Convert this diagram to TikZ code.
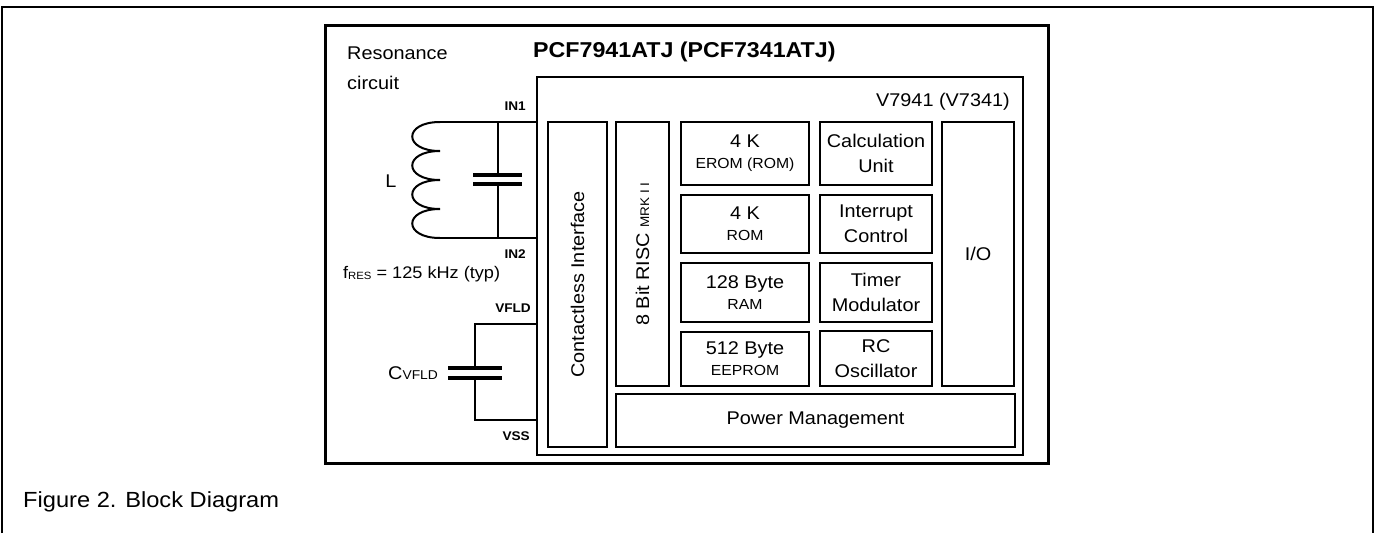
\documentclass[tikz,border=0pt]{standalone}
\usepackage{fontspec}
\setmainfont{Liberation Sans}[FakeStretch=1.08]
\usepackage{tikz}
\newcommand{\txtsize}[2]{\fontsize{#1}{#2}\selectfont}

\begin{document}
\begin{tikzpicture}[x=1pt,y=-1pt,
  blk/.style={draw, line width=1.1pt, inner sep=0pt, align=center, font=\txtsize{18.4}{25}},
  wire/.style={line width=2pt},
  plate/.style={line width=4pt},
  pin/.style={anchor=base east, inner sep=0pt, font=\bfseries\txtsize{12.6}{13}},
  lbl/.style={inner sep=0pt, font=\txtsize{18.4}{20}}]
\useasboundingbox (0,0) rectangle (1381,533);
% page frame
\draw[line width=2pt] (2,533) -- (2,7) -- (1373,7) -- (1373,533);
% chip and core
\node[draw, line width=3pt, inner sep=0pt, minimum width=723, minimum height=438] (chip) at (686.5,244) {};
\node[draw, line width=1.3pt, inner sep=0pt, minimum width=486, minimum height=378] (core) at (780,266) {};
\node[lbl, anchor=base west] (res) at (347,59) {Resonance};
\node[lbl, anchor=base west] (circ) at (347,89) {circuit};
\node[lbl, anchor=base west, font=\bfseries\txtsize{21.5}{22}] (title) at (533,57) {PCF7941ATJ (PCF7341ATJ)};
\node[lbl, anchor=base east] (corename) at (1010,106) {V7941 (V7341)};
% blocks
\node[blk, rotate=90, minimum width=325, minimum height=59] (cif) at (577.5,284.5) {Contactless Interface};
\node[blk, rotate=90, minimum width=264, minimum height=53] (risc) at (642.5,254) {8 Bit RISC {\txtsize{12.5}{13}MRK I I}};
\node[blk, minimum width=128, minimum height=63] (erom) at (745,153.5) {4 K\\[-4pt]{\txtsize{14.6}{16}EROM (ROM)}};
\node[blk, minimum width=128, minimum height=58] (rom) at (745,224) {4 K\\[-4pt]{\txtsize{14.6}{16}ROM}};
\node[blk, minimum width=128, minimum height=59] (ram) at (745,292.5) {128 Byte\\[-4pt]{\txtsize{14.6}{16}RAM}};
\node[blk, minimum width=128, minimum height=54] (eeprom) at (745,359) {512 Byte\\[-4pt]{\txtsize{14.6}{16}EEPROM}};
\node[blk, minimum width=112, minimum height=63] (calc) at (876,153.5) {Calculation\\Unit};
\node[blk, minimum width=112, minimum height=58] (intr) at (876,224) {Interrupt\\Control};
\node[blk, minimum width=112, minimum height=59] (tmod) at (876,292.5) {Timer\\Modulator};
\node[blk, minimum width=112, minimum height=55] (rcosc) at (876,358.5) {RC\\Oscillator};
\node[blk, minimum width=72, minimum height=264] (io) at (978,254) {I/O};
\node[blk, minimum width=399, minimum height=53] (pwr) at (815.5,420.5) {Power Management};
% pins
\coordinate (in1) at (537,122);
\coordinate (in2) at (537,238);
\coordinate (vfld) at (537,324);
\coordinate (vss) at (537,420);
\node[pin] (in1lbl) at (526,110.5) {IN1};
\node[pin] (in2lbl) at (526,258) {IN2};
\node[pin] (vfldlbl) at (531,312) {VFLD};
\node[pin] (vsslbl) at (530,440) {VSS};
% resonance circuit
\coordinate (ltop) at (440,122);
\coordinate (lbot) at (440,238);
\draw[wire] (ltop) \foreach \k in {0,...,3} { .. controls (403,{122+29*\k}) and (403,{151+29*\k}) .. (440,{151+29*\k}) };
\draw[wire] (ltop) -- (in1);
\draw[wire] (lbot) -- (in2);
\coordinate (ctop) at (497.5,122);
\coordinate (cbot) at (497.5,238);
\coordinate (cp1) at (497.5,175);
\coordinate (cp2) at (497.5,184);
\draw[wire] (ctop) -- (cp1);
\draw[wire] (cp2) -- (cbot);
\draw[plate] ([xshift=-24.5pt]cp1) -- ([xshift=24.5pt]cp1);
\draw[plate] ([xshift=-24.5pt]cp2) -- ([xshift=24.5pt]cp2);
\node[lbl, anchor=base] (lname) at (391,187) {L};
\node[lbl, anchor=base west, font=\txtsize{16.8}{18}] (fres) at (343,278) {f{\txtsize{10.5}{12}\raisebox{-1.5pt}{RES}} = 125 kHz (typ)};
% field supply capacitor
\coordinate (cv1) at (475,368);
\coordinate (cv2) at (475,378);
\draw[wire] (vfld) -| (cv1);
\draw[wire] (vss) -| (cv2);
\draw[plate] ([xshift=-27pt]cv1) -- ([xshift=27pt]cv1);
\draw[plate] ([xshift=-27pt]cv2) -- ([xshift=27pt]cv2);
\node[lbl, anchor=base west] (cvlbl) at (388,379) {C{\txtsize{12.8}{14}VFLD}};
% caption
\node[lbl, anchor=base west, font=\txtsize{21.9}{23}] (caption) at (23,507) {Figure 2. Block Diagram};
\end{tikzpicture}
\end{document}
